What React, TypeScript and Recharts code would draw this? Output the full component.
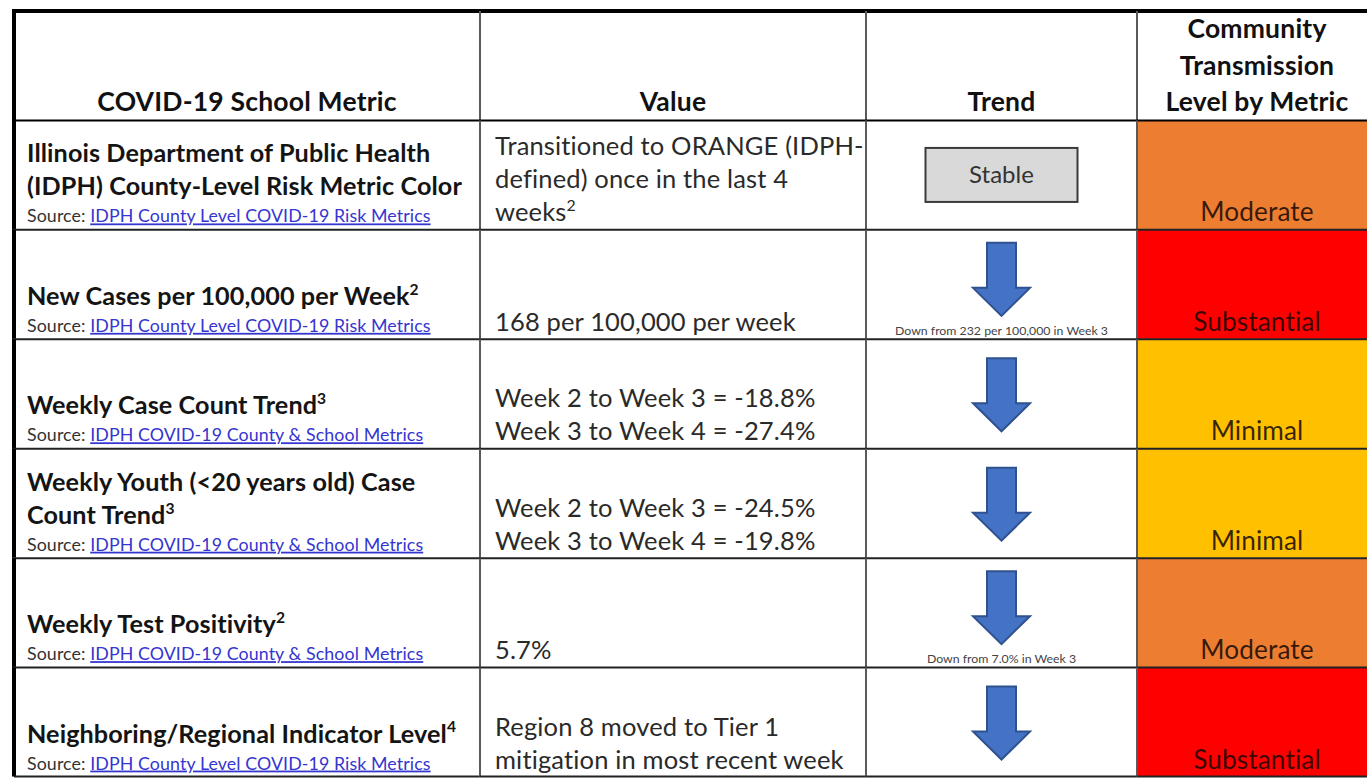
import React from "react";
import { BarChart, Bar, XAxis, YAxis } from "recharts";

// ---------- content ----------
const HEADER_METRIC = ["COVID-19 School Metric"];
const HEADER_VALUE = ["Value"];
const HEADER_TREND = ["Trend"];
const HEADER_LEVEL = ["Community", "Transmission", "Level by Metric"];

const METRIC_TITLES: string[][] = [
  ["Illinois Department of Public Health", "(IDPH) County-Level Risk Metric Color"],
  ["New Cases per 100,000 per Week"],
  ["Weekly Case Count Trend"],
  ["Weekly Youth (<20 years old) Case", "Count Trend"],
  ["Weekly Test Positivity"],
  ["Neighboring/Regional Indicator Level"],
];
const METRIC_NOTES = ["", "2", "3", "3", "2", "4"];
const METRIC_SOURCES = [
  "IDPH County Level COVID-19 Risk Metrics",
  "IDPH County Level COVID-19 Risk Metrics",
  "IDPH COVID-19 County & School Metrics",
  "IDPH COVID-19 County & School Metrics",
  "IDPH COVID-19 County & School Metrics",
  "IDPH County Level COVID-19 Risk Metrics",
];
const VALUE_LINES: string[][] = [
  ["Transitioned to ORANGE (IDPH-", "defined) once in the last 4", "weeks"],
  ["168 per 100,000 per week"],
  ["Week 2 to Week 3 = -18.8%", "Week 3 to Week 4 = -27.4%"],
  ["Week 2 to Week 3 = -24.5%", "Week 3 to Week 4 = -19.8%"],
  ["5.7%"],
  ["Region 8 moved to Tier 1", "mitigation in most recent week"],
];
const VALUE_NOTES = ["2", "", "", "", "", ""];
const TRENDS = ["Stable", "Down", "Down", "Down", "Down", "Down"];
const TREND_NOTES = [
  "",
  "Down from 232 per 100,000 in Week 3",
  "",
  "",
  "Down from 7.0% in Week 3",
  "",
];
const LEVELS = ["Moderate", "Substantial", "Minimal", "Minimal", "Moderate", "Substantial"];

// ---------- styles / layout ----------
const LEVEL_COLORS: Record<string, string> = {
  Minimal: "#FFC000",
  Moderate: "#ED7D31",
  Substantial: "#FF0000",
};
const COLUMN_WIDTHS = [466, 386, 271, 240];
const TOTAL_WIDTH = COLUMN_WIDTHS.reduce((a, b) => a + b, 0);
const FONT = "Lato, 'Open Sans', sans-serif";
const NROWS = METRIC_TITLES.length + 1;

const rows = [
  { key: "header", c1: COLUMN_WIDTHS[0], c2: COLUMN_WIDTHS[1], c3: COLUMN_WIDTHS[2], c4: COLUMN_WIDTHS[3] },
  ...METRIC_TITLES.map((_, i) => ({
    key: "row" + i,
    c1: COLUMN_WIDTHS[0],
    c2: COLUMN_WIDTHS[1],
    c3: COLUMN_WIDTHS[2],
    c4: COLUMN_WIDTHS[3],
  })),
];

function Frame({ x, y, width, height, index, col, fill }: any) {
  const firstRow = index === 0;
  const lastRow = index === NROWS - 1;
  const firstCol = col === 0;
  return (
    <g>
      <rect x={x} y={y} width={width} height={height} fill={fill} />
      <line
        x1={x - (firstCol ? 2 : 1)}
        x2={x + width}
        y1={y}
        y2={y}
        stroke={firstRow || index === 1 ? "#000" : "#222"}
        strokeWidth={firstRow ? 4 : 2}
      />
      <line
        x1={x}
        x2={x}
        y1={y}
        y2={y + height}
        stroke={firstCol ? "#000" : "#5a5a5a"}
        strokeWidth={firstCol ? 4 : 2}
      />
      {lastRow && (
        <line x1={x} x2={x + width} y1={y + height} y2={y + height} stroke="#222" strokeWidth={2} />
      )}
    </g>
  );
}

function TextLine({ x, y, text, note, size, weight, anchor, fill, spacing }: any) {
  return (
    <text
      x={x}
      y={y}
      fontSize={size}
      fontWeight={weight || 400}
      fill={fill || "#262626"}
      textAnchor={anchor || "start"}
      fontFamily={FONT}
      letterSpacing={spacing || 0}
    >
      {text}
      {note ? (
        <tspan dy={-size * 0.4} fontSize={size * 0.62}>
          {note}
        </tspan>
      ) : null}
    </text>
  );
}

function HeaderLines({ lines, cx, bottom }: any) {
  return (
    <g>
      {lines.map((l: string, i: number) => (
        <TextLine
          key={i}
          x={cx}
          y={bottom - 9 - (lines.length - 1 - i) * 36.5}
          text={l}
          size={26.5}
          weight={700}
          anchor="middle"
          fill="#111"
          spacing={0.2}
        />
      ))}
    </g>
  );
}

function MetricCell(props: any) {
  const { x, y, width, height, index } = props;
  const bottom = y + height;
  if (index === 0)
    return (
      <g>
        <Frame {...props} col={0} fill="#fff" />
        <HeaderLines lines={HEADER_METRIC} cx={x + width / 2} bottom={bottom} />
      </g>
    );
  const i = index - 1;
  const title = METRIC_TITLES[i];
  return (
    <g>
      <Frame {...props} col={0} fill="#fff" />
      {title.map((t, k) => (
        <TextLine
          key={k}
          x={x + 13}
          y={bottom - 34 - (title.length - 1 - k) * 33}
          text={t}
          note={k === title.length - 1 ? METRIC_NOTES[i] : ""}
          size={25.2}
          weight={700}
          fill="#141414"
          spacing={0.1}
        />
      ))}
      <text x={x + 13} y={bottom - 7} fontSize={17.8} fontFamily={FONT} letterSpacing={0.1}>
        <tspan fill="#333">Source: </tspan>
        <tspan fill="#3535d0" textDecoration="underline">
          {METRIC_SOURCES[i]}
        </tspan>
      </text>
    </g>
  );
}

function ValueCell(props: any) {
  const { x, y, width, height, index } = props;
  const bottom = y + height;
  if (index === 0)
    return (
      <g>
        <Frame {...props} col={1} fill="#fff" />
        <HeaderLines lines={HEADER_VALUE} cx={x + width / 2} bottom={bottom} />
      </g>
    );
  const i = index - 1;
  const lines = VALUE_LINES[i];
  return (
    <g>
      <Frame {...props} col={1} fill="#fff" />
      {lines.map((t, k) => (
        <TextLine
          key={k}
          x={x + 15}
          y={bottom - 8 - (lines.length - 1 - k) * 33}
          text={t}
          note={k === lines.length - 1 ? VALUE_NOTES[i] : ""}
          size={25.5}
          fill="#2a2a2a"
          spacing={0.15}
        />
      ))}
    </g>
  );
}

function TrendCell(props: any) {
  const { x, y, width, height, index } = props;
  const bottom = y + height;
  const cx = x + width / 2;
  if (index === 0)
    return (
      <g>
        <Frame {...props} col={2} fill="#fff" />
        <HeaderLines lines={HEADER_TREND} cx={cx} bottom={bottom} />
      </g>
    );
  const i = index - 1;
  const cy = y + height / 2;
  if (TRENDS[i] === "Stable") {
    return (
      <g>
        <Frame {...props} col={2} fill="#fff" />
        <rect x={cx - 76} y={cy - 27} width={152} height={54} fill="#d9d9d9" stroke="#3a3a3a" strokeWidth={2} />
        <TextLine x={cx} y={cy + 8} text="Stable" size={24} anchor="middle" fill="#333" />
      </g>
    );
  }
  const note = TREND_NOTES[i];
  const tip = cy + 1 - (note ? 6 : 0) + 36.5;
  const top = tip - 73;
  const hs = tip - 28;
  const pts = [
    [cx - 14.5, top],
    [cx + 14.5, top],
    [cx + 14.5, hs],
    [cx + 28.5, hs],
    [cx, tip],
    [cx - 28.5, hs],
    [cx - 14.5, hs],
  ]
    .map((p) => p.join(","))
    .join(" ");
  return (
    <g>
      <Frame {...props} col={2} fill="#fff" />
      <polygon points={pts} fill="#4472C4" stroke="#2F528F" strokeWidth={2} strokeLinejoin="miter" />
      {note ? (
        <TextLine x={cx} y={bottom - 4} text={note} size={12.3} anchor="middle" fill="#444" />
      ) : null}
    </g>
  );
}

function LevelCell(props: any) {
  const { x, y, width, height, index } = props;
  const bottom = y + height;
  const cx = x + width / 2;
  if (index === 0)
    return (
      <g>
        <Frame {...props} col={3} fill="#fff" />
        <HeaderLines lines={HEADER_LEVEL} cx={cx} bottom={bottom} />
      </g>
    );
  const i = index - 1;
  return (
    <g>
      <Frame {...props} col={3} fill={LEVEL_COLORS[LEVELS[i]]} />
      <TextLine x={cx} y={bottom - 8} text={LEVELS[i]} size={26.2} anchor="middle" fill="rgba(20,8,4,0.85)" spacing={0.1} />
    </g>
  );
}

export default function App() {
  return (
    <div
      style={{
        position: "absolute",
        left: 0,
        top: 0,
        width: 1367,
        height: 778,
        overflow: "hidden",
        background: "#fff",
      }}
    >
      <BarChart
        width={1390}
        height={790}
        data={rows}
        layout="vertical"
        margin={{ top: 11, right: 13, bottom: 13, left: 14 }}
        barCategoryGap={0}
        barGap={0}
      >
        <XAxis type="number" domain={[0, TOTAL_WIDTH]} hide />
        <YAxis type="category" dataKey="key" hide />
        <Bar dataKey="c1" stackId="t" isAnimationActive={false} shape={(p: any) => <MetricCell {...p} />} />
        <Bar dataKey="c2" stackId="t" isAnimationActive={false} shape={(p: any) => <ValueCell {...p} />} />
        <Bar dataKey="c3" stackId="t" isAnimationActive={false} shape={(p: any) => <TrendCell {...p} />} />
        <Bar dataKey="c4" stackId="t" isAnimationActive={false} shape={(p: any) => <LevelCell {...p} />} />
      </BarChart>
    </div>
  );
}
